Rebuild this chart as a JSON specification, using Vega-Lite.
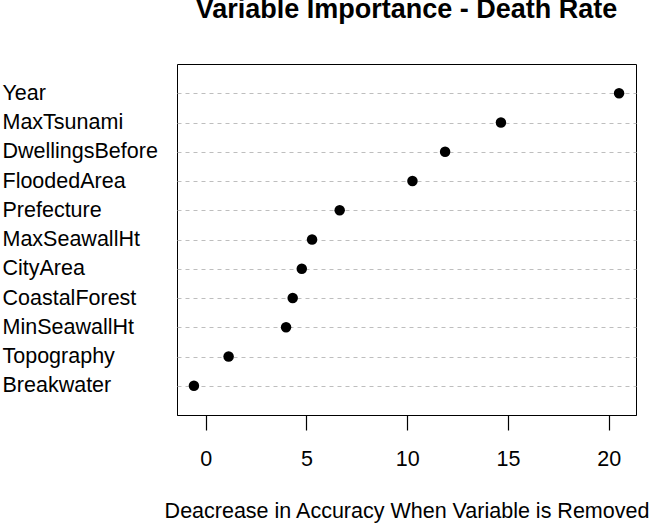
{
  "$schema": "https://vega.github.io/schema/vega-lite/v6.json",
  "autosize": {"type": "none"},
  "width": 459,
  "height": 351,
  "padding": {"left": 177, "top": 64, "right": 24, "bottom": 109},
  "background": "white",
  "title": {
    "text": "Variable Importance - Death Rate",
    "anchor": "middle",
    "frame": "group",
    "font": "Liberation Sans",
    "fontSize": 27,
    "fontWeight": "bold",
    "color": "black",
    "baseline": "alphabetic",
    "offset": 19
  },
  "config": {
    "view": {"stroke": "black", "strokeWidth": 1},
    "font": "Liberation Sans",
    "axisX": {"ticks": true, "tickSize": 15, "tickColor": "black", "tickWidth": 1.2}
  },
  "data": {
    "values": [
      {"variable": "Year", "importance": 20.51},
      {"variable": "MaxTsunami", "importance": 14.65},
      {"variable": "DwellingsBefore", "importance": 11.88},
      {"variable": "FloodedArea", "importance": 10.26},
      {"variable": "Prefecture", "importance": 6.65},
      {"variable": "MaxSeawallHt", "importance": 5.28},
      {"variable": "CityArea", "importance": 4.77},
      {"variable": "CoastalForest", "importance": 4.32},
      {"variable": "MinSeawallHt", "importance": 3.99},
      {"variable": "Topography", "importance": 1.14},
      {"variable": "Breakwater", "importance": -0.58}
    ]
  },
  "mark": {"type": "point", "filled": true, "color": "black", "opacity": 1, "size": 110},
  "encoding": {
    "x": {
      "field": "importance",
      "type": "quantitative",
      "scale": {"domain": [-1.42, 21.35], "nice": false, "zero": false},
      "axis": {
        "title": "Deacrease in Accuracy When Variable is Removed",
        "titleFont": "Liberation Sans",
        "titleFontSize": 21.5,
        "titleFontWeight": "normal",
        "titleColor": "black",
        "titleBaseline": "alphabetic",
        "titleY": 102,
        "values": [0, 5, 10, 15, 20],
        "grid": false,
        "domain": true,
        "domainColor": "black",
        "domainWidth": 1,
        "labelFont": "Liberation Sans",
        "labelFontSize": 21.5,
        "labelColor": "black",
        "labelPadding": 18
      }
    },
    "y": {
      "field": "variable",
      "type": "nominal",
      "sort": ["Year", "MaxTsunami", "DwellingsBefore", "FloodedArea", "Prefecture", "MaxSeawallHt", "CityArea", "CoastalForest", "MinSeawallHt", "Topography", "Breakwater"],
      "scale": {"type": "point", "padding": 1},
      "axis": {
        "title": null,
        "grid": true,
        "gridColor": "#bebebe",
        "gridDash": [4, 4],
        "gridWidth": 1,
        "domain": false,
        "ticks": false,
        "labelAlign": "left",
        "labelPadding": 175,
        "labelFont": "Liberation Sans",
        "labelFontSize": 21.5,
        "labelColor": "black"
      }
    }
  }
}
